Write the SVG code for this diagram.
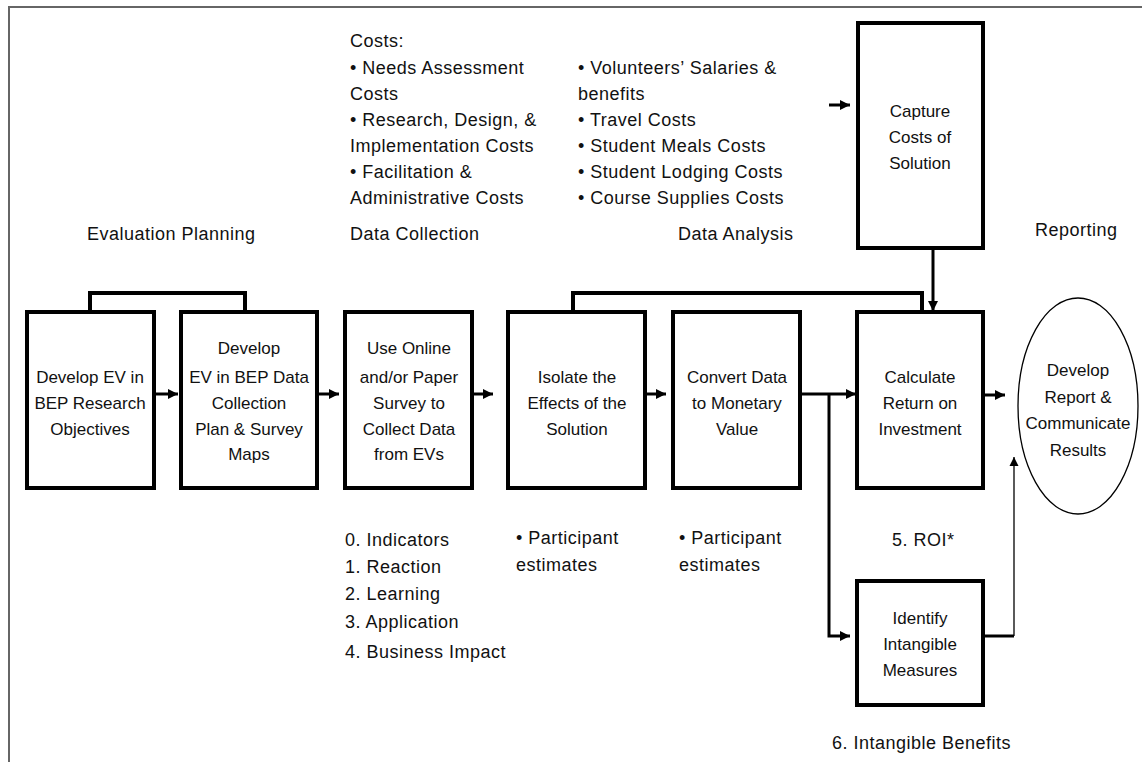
<svg xmlns="http://www.w3.org/2000/svg" width="1142" height="762" viewBox="0 0 1142 762">
<style>
text{font-family:"Liberation Sans",Arial,sans-serif;font-size:18px;letter-spacing:0.5px;fill:#111}
.c{text-anchor:middle;font-size:17px;letter-spacing:0}
.box{fill:#fff;stroke:#000;stroke-width:4}
.ln{fill:none;stroke:#000;stroke-width:4}
.ar{fill:none;stroke:#000;stroke-width:3}
.thin{fill:none;stroke:#000;stroke-width:1.3}
</style>
<defs>
<marker id="ah" viewBox="0 0 10 10" refX="10" refY="5" markerWidth="10" markerHeight="10" markerUnits="userSpaceOnUse" orient="auto">
<path d="M0,0 L10,5 L0,10 Z" fill="#000"/>
</marker>
<marker id="ahs" viewBox="0 0 10 10" refX="10" refY="5" markerWidth="9" markerHeight="10" markerUnits="userSpaceOnUse" orient="auto">
<path d="M0,0 L10,5 L0,10 Z" fill="#000"/>
</marker>
</defs>
<rect width="1142" height="762" fill="#fff"/>
<path d="M9,762 V7 H1142" fill="none" stroke="#666" stroke-width="2"/>

<g id="labels">
<text x="87" y="240">Evaluation Planning</text>
<text x="350" y="47">Costs:</text>
<text x="350" y="74">• Needs Assessment</text>
<text x="350" y="100">Costs</text>
<text x="350" y="126">• Research, Design, &amp;</text>
<text x="350" y="152">Implementation Costs</text>
<text x="350" y="178">• Facilitation &amp;</text>
<text x="350" y="204">Administrative Costs</text>
<text x="350" y="240">Data Collection</text>
<text x="578" y="74">• Volunteers’ Salaries &amp;</text>
<text x="578" y="100">benefits</text>
<text x="578" y="126">• Travel Costs</text>
<text x="578" y="152">• Student Meals Costs</text>
<text x="578" y="178">• Student Lodging Costs</text>
<text x="578" y="204">• Course Supplies Costs</text>
<text x="678" y="240">Data Analysis</text>
<text x="1035" y="236">Reporting</text>
<text x="345" y="546">0. Indicators</text>
<text x="345" y="573">1. Reaction</text>
<text x="345" y="600">2. Learning</text>
<text x="345" y="628">3. Application</text>
<text x="345" y="658">4. Business Impact</text>
<text x="516" y="544">• Participant</text>
<text x="516" y="571">estimates</text>
<text x="679" y="544">• Participant</text>
<text x="679" y="571">estimates</text>
<text x="892" y="546">5. ROI*</text>
<text x="832" y="749">6. Intangible Benefits</text>
</g>

<g id="connectors">
<path class="ln" d="M90,312 V293 H245 V312"/>
<path class="ln" d="M573,312 V293 H922 V312"/>
<path class="ar" d="M933,248 V311" marker-end="url(#ah)"/>
<path class="ar" d="M829,105 H850" marker-end="url(#ah)"/>
<path class="ar" d="M154,394 H178" marker-end="url(#ah)"/>
<path class="ar" d="M317,394 H339" marker-end="url(#ah)"/>
<path class="ar" d="M472,394 H493" marker-end="url(#ah)"/>
<path class="ar" d="M645,394 H666" marker-end="url(#ah)"/>
<path class="ar" d="M800,394 H856" marker-end="url(#ah)"/>
<path class="ar" d="M829,394 V636 H850" marker-end="url(#ah)"/>
<path class="ar" d="M983,395 H1005" marker-end="url(#ah)"/>
<path class="ar" d="M983,636 H1014"/>
<path class="thin" d="M1014,636 V457" marker-end="url(#ahs)"/>
</g>

<g id="n1"><rect class="box" x="27" y="312" width="127" height="176"/>
<text class="c" x="90" y="383">Develop EV in</text><text class="c" x="90" y="409">BEP Research</text><text class="c" x="90" y="435">Objectives</text></g>
<g id="n2"><rect class="box" x="181" y="312" width="136" height="176"/>
<text class="c" x="249" y="354">Develop</text><text class="c" x="249" y="383">EV in BEP Data</text><text class="c" x="249" y="409">Collection</text><text class="c" x="249" y="435">Plan &amp; Survey</text><text class="c" x="249" y="460">Maps</text></g>
<g id="n3"><rect class="box" x="345" y="312" width="127" height="176"/>
<text class="c" x="409" y="354">Use Online</text><text class="c" x="409" y="383">and/or Paper</text><text class="c" x="409" y="409">Survey to</text><text class="c" x="409" y="435">Collect Data</text><text class="c" x="409" y="460">from EVs</text></g>
<g id="n4"><rect class="box" x="508" y="312" width="137" height="176"/>
<text class="c" x="577" y="383">Isolate the</text><text class="c" x="577" y="409">Effects of the</text><text class="c" x="577" y="435">Solution</text></g>
<g id="n5"><rect class="box" x="673" y="312" width="127" height="176"/>
<text class="c" x="737" y="383">Convert Data</text><text class="c" x="737" y="409">to Monetary</text><text class="c" x="737" y="435">Value</text></g>
<g id="n6"><rect class="box" x="857" y="312" width="126" height="176"/>
<text class="c" x="920" y="383">Calculate</text><text class="c" x="920" y="409">Return on</text><text class="c" x="920" y="435">Investment</text></g>
<g id="n7"><rect class="box" x="858" y="23" width="125" height="225"/>
<text class="c" x="920" y="117">Capture</text><text class="c" x="920" y="143">Costs of</text><text class="c" x="920" y="169">Solution</text></g>
<g id="n8"><rect class="box" x="857" y="581" width="126" height="124"/>
<text class="c" x="920" y="624">Identify</text><text class="c" x="920" y="650">Intangible</text><text class="c" x="920" y="676">Measures</text></g>
<g id="n9"><ellipse cx="1078" cy="406" rx="60" ry="108" fill="#fff" stroke="#000" stroke-width="1.3"/>
<text class="c" x="1078" y="376">Develop</text><text class="c" x="1078" y="403">Report &amp;</text><text class="c" x="1078" y="429">Communicate</text><text class="c" x="1078" y="456">Results</text></g>
</svg>
